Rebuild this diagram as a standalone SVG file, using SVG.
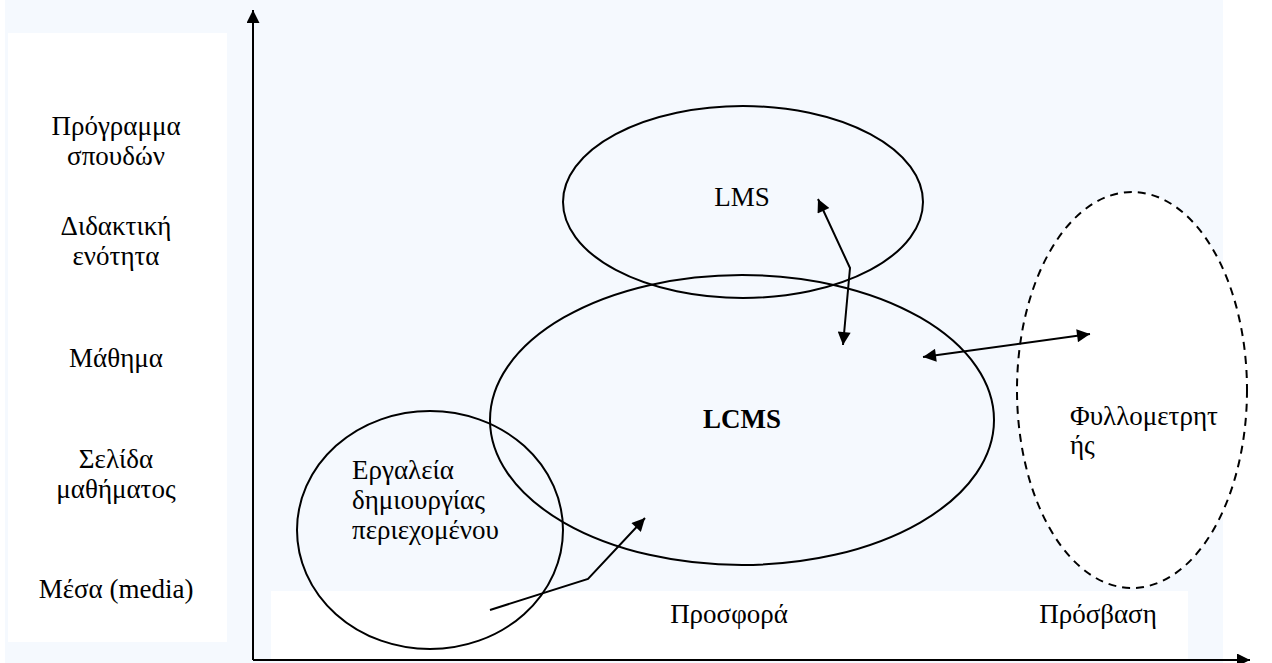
<svg xmlns="http://www.w3.org/2000/svg" width="1272" height="663" viewBox="0 0 1272 663">
<style>
text{font-family:"Liberation Serif","Times New Roman",serif;font-size:27px;fill:#000}
.c{text-anchor:middle}
.sh{fill:none;stroke:#000;stroke-width:2}
.ln{fill:none;stroke:#000;stroke-width:2}
</style>
<defs>
<marker id="ah" viewBox="0 0 10 10" refX="10" refY="5" markerWidth="16" markerHeight="13" markerUnits="userSpaceOnUse" orient="auto-start-reverse">
<path d="M0,0 L10,5 L0,10 z" fill="#000"/>
</marker>
</defs>
<rect x="0" y="0" width="1272" height="663" fill="#fff"/>
<rect x="5" y="0" width="1218" height="663" fill="#f5f9fe"/>
<rect x="8" y="33" width="219" height="609" fill="#fff"/>
<rect x="271" y="591" width="917" height="69" fill="#fff"/>

<g id="labels-left">
<text class="c" x="116" y="135">Πρόγραμμα</text>
<text class="c" x="116" y="165">σπουδών</text>
<text class="c" x="116" y="235">Διδακτική</text>
<text class="c" x="116" y="265">ενότητα</text>
<text class="c" x="116" y="367">Μάθημα</text>
<text class="c" x="116" y="468">Σελίδα</text>
<text class="c" x="116" y="498">μαθήματος</text>
<text class="c" x="116" y="598">Μέσα (media)</text>
</g>
<g id="labels-bottom">
<text class="c" x="729" y="623">Προσφορά</text>
<text class="c" x="1098" y="623">Πρόσβαση</text>
</g>

<g id="node-browser">
<ellipse cx="1132" cy="390" rx="115" ry="198" fill="#fff" stroke="#000" stroke-width="2" stroke-dasharray="8,6"/>
<text x="1070" y="425">Φυλλομετρητ</text>
<text x="1070" y="454">ής</text>
</g>
<g id="node-lms">
<ellipse class="sh" cx="743" cy="202" rx="180" ry="96"/>
<text class="c" x="742" y="206">LMS</text>
</g>
<g id="node-lcms">
<ellipse class="sh" cx="742" cy="420" rx="252" ry="145"/>
<text class="c" x="742" y="428" font-weight="bold" font-size="28">LCMS</text>
</g>
<g id="node-tools">
<ellipse class="sh" cx="430" cy="530" rx="133" ry="119"/>
<text x="352" y="479">Εργαλεία</text>
<text x="352" y="509">δημιουργίας</text>
<text x="352" y="539">περιεχομένου</text>
</g>

<g id="connectors">
<line class="ln" x1="253" y1="660" x2="253" y2="10" marker-end="url(#ah)"/>
<line class="ln" x1="253" y1="660" x2="1250" y2="660" marker-end="url(#ah)"/>
<polyline class="ln" points="490,610 588,579 645,518" marker-end="url(#ah)"/>
<polyline class="ln" points="818,199 850,268 843,345" marker-start="url(#ah)" marker-end="url(#ah)"/>
<line class="ln" x1="923" y1="357" x2="1090" y2="334" marker-start="url(#ah)" marker-end="url(#ah)"/>
</g>
</svg>
